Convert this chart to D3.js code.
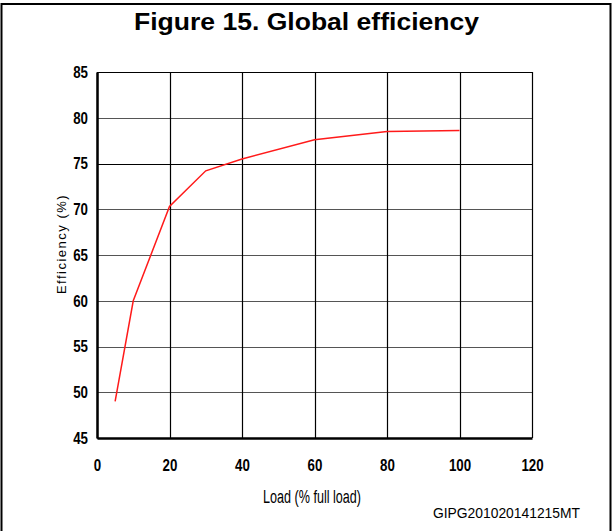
<!DOCTYPE html>
<html>
  <head>
    <meta charset="utf-8">
    <title>Figure 15. Global efficiency</title>
    <script src="https://d3js.org/d3.v7.min.js"></script>
    <style>
      body { margin: 0; background: white; }
      .tick text { font-family: "Liberation Sans", Arial, sans-serif; font-weight: bold; font-size: 17px; }
    </style>
  </head>
  <body>
    <svg id="chart" width="612" height="531"></svg>
    <script>
      // data
      var loads = [5, 10, 20, 30, 40, 60, 80, 100];
      var efficiency = [49, 60, 70.3, 74.2, 75.5, 77.6, 78.5, 78.6];
      var xTicks = [0, 20, 40, 60, 80, 100, 120];
      var yTicks = [45, 50, 55, 60, 65, 70, 75, 80, 85];

      var svg = d3.select("#chart");

      // outer frame
      svg.append("path")
        .attr("d", "M1.5,531 V4 H610.5 V531")
        .attr("fill", "none")
        .attr("stroke", "black")
        .attr("stroke-width", 2);

      svg.append("text")
        .attr("x", 134)
        .attr("y", 30)
        .attr("textLength", 345)
        .attr("lengthAdjust", "spacingAndGlyphs")
        .style("font-family", "Liberation Sans, Arial, sans-serif")
        .style("font-weight", "bold")
        .style("font-size", "24px")
        .text("Figure 15. Global efficiency");

      var x = d3.scaleLinear().domain([0, 120]).range([97, 532]);
      var y = d3.scaleLinear().domain([45, 85]).range([438, 72]);

      // grid
      svg.append("g")
        .selectAll("line")
        .data(yTicks)
        .enter().append("line")
          .attr("x1", x(0)).attr("x2", x(120))
          .attr("y1", function(d) { return Math.round(y(d)) + 0.5; })
          .attr("y2", function(d) { return Math.round(y(d)) + 0.5; })
          .attr("stroke", function(d) { return d == 75 || d == 85 ? "black" : "#555"; })
          .attr("stroke-width", 1.2);
      svg.append("g")
        .selectAll("line")
        .data(xTicks)
        .enter().append("line")
          .attr("y1", y(45)).attr("y2", y(85))
          .attr("x1", function(d) { return Math.round(x(d)) + 0.5; })
          .attr("x2", function(d) { return Math.round(x(d)) + 0.5; })
          .attr("stroke", "black")
          .attr("stroke-width", 1.2);

      // condensed look for tick labels
      function narrow(g) {
        g.selectAll(".tick text")
          .attr("textLength", function(d) { return String(d).length * 7.4; })
          .attr("lengthAdjust", "spacingAndGlyphs");
        g.select(".domain").attr("stroke-width", 2.5);
      }

      // axes
      svg.append("g")
        .attr("transform", "translate(" + x(0) + ",0)")
        .call(d3.axisLeft(y).tickValues(yTicks).tickSize(0).tickPadding(9))
        .call(narrow);
      svg.append("g")
        .attr("transform", "translate(0," + y(45) + ")")
        .call(d3.axisBottom(x).tickValues(xTicks).tickSize(0).tickPadding(21))
        .call(narrow);

      // efficiency curve
      svg.append("path")
        .datum(loads)
        .attr("fill", "none")
        .attr("stroke", "#ff1a1a")
        .attr("stroke-width", 1.5)
        .attr("d", d3.line()
          .x(function(d) { return x(d); })
          .y(function(d, i) { return y(efficiency[i]); }));

      // axis titles
      svg.append("text")
        .attr("transform", "translate(66,244) rotate(-90)")
        .attr("text-anchor", "middle")
        .style("font-family", "Liberation Sans, Arial, sans-serif")
        .style("font-size", "13px")
        .style("letter-spacing", "1.5px")
        .text("Efficiency (%)");
      svg.append("text")
        .attr("x", 263)
        .attr("y", 503)
        .attr("textLength", 98)
        .attr("lengthAdjust", "spacingAndGlyphs")
        .style("font-family", "Liberation Sans, Arial, sans-serif")
        .style("font-size", "18px")
        .text("Load (% full load)");
      svg.append("text")
        .attr("x", 433)
        .attr("y", 518)
        .attr("textLength", 147)
        .attr("lengthAdjust", "spacingAndGlyphs")
        .style("font-family", "Liberation Sans, Arial, sans-serif")
        .style("font-size", "14px")
        .text("GIPG201020141215MT");
    </script>
  </body>
</html>
